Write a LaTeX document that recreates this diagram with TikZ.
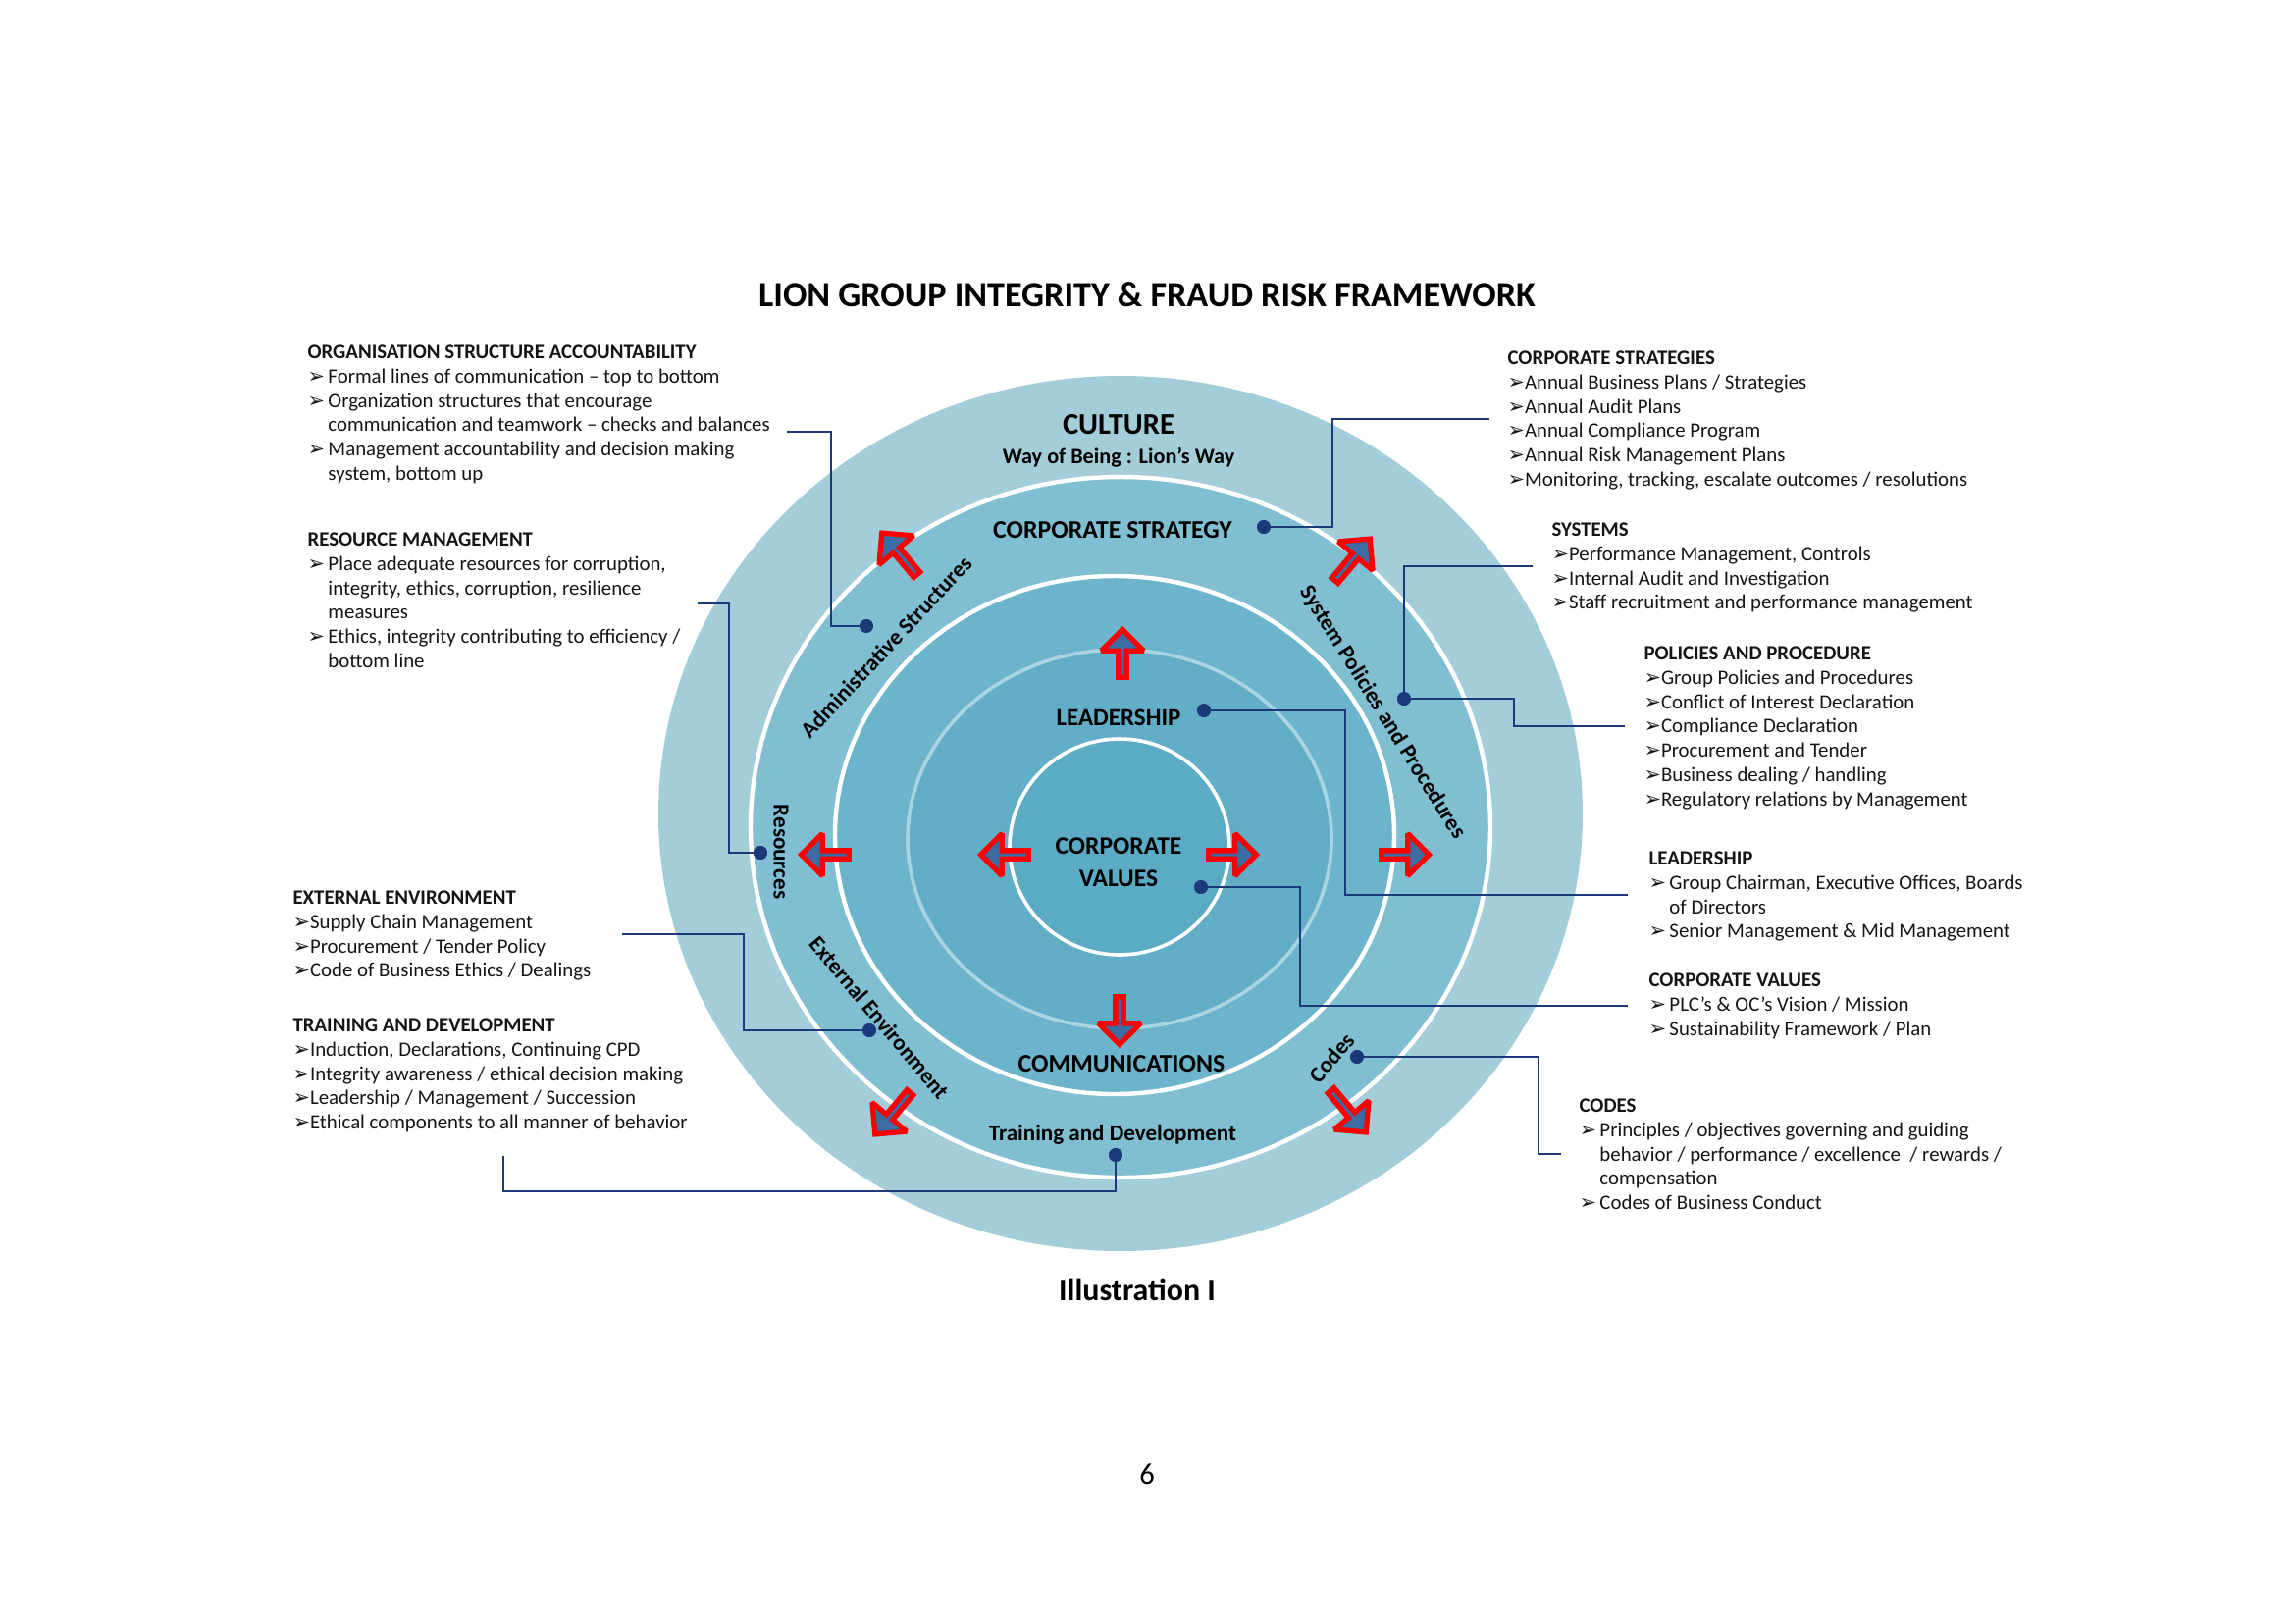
\documentclass[tikz,border=0pt]{standalone}
\usepackage{fontspec}
\setmainfont{Carlito}
\newfontfamily\dejavu{DejaVu Sans}
\usetikzlibrary{shapes.arrows}
\definecolor{cOut}{HTML}{A4CDDA}
\definecolor{cB1}{HTML}{80BED1}
\definecolor{cB2}{HTML}{6CB4CB}
\definecolor{cB3}{HTML}{62AEC7}
\definecolor{cIn}{HTML}{5BABC4}
\definecolor{cRing}{HTML}{A9D4E2}
\definecolor{cLine}{HTML}{1B3A7A}
\definecolor{cTxt}{HTML}{141414}
\definecolor{aFill}{HTML}{3C6CA3}
\newcommand{\bl}{{\dejavu\bfseries\char"27A2}}
\newcommand{\ind}{\phantom{\bl}}
\tikzset{
  blk/.style={anchor=north west, align=left, inner sep=0pt, text=cTxt,
    font=\fontsize{7.5}{8.96}\selectfont},
  ringlbl/.style={inner sep=0pt, text=black, font=\fontsize{8.3}{9}\selectfont\bfseries},
  midlbl/.style={inner sep=0pt, text=black, font=\fontsize{9.3}{11}\selectfont\bfseries},
  conn/.style={draw=cLine, line width=0.9pt},
  dotn/.style={circle, fill=cLine, inner sep=0pt, minimum size=5pt},
  bigarrow/.style={single arrow, draw=red, line width=1.9pt, fill=aFill,
    minimum height=17.5pt, minimum width=15.5pt, single arrow head extend=4pt,
    single arrow tip angle=90, inner sep=0pt, miter limit=2},
  diagarrow/.style={bigarrow, minimum height=20pt, minimum width=16.5pt, single arrow head extend=4.2pt}
}
\begin{document}
\begin{tikzpicture}[x=0.36pt, y=-0.36pt]
\useasboundingbox (0,0) rectangle (2339,1654);

% title
\node[inner sep=0pt, font=\fontsize{13}{15}\selectfont\bfseries, text=black] (title) at (1169,300) {LION GROUP INTEGRITY \& FRAUD RISK FRAMEWORK};

% rings
\fill[cOut] (1142,829) ellipse [x radius=471, y radius=446];
\filldraw[fill=cB1, draw=white, line width=1.6pt] (1142,843) ellipse [x radius=377, y radius=357];
\filldraw[fill=cB2, draw=white, line width=1.6pt] (1136,851) ellipse [x radius=285, y radius=264];
\filldraw[fill=cB3, draw=cRing, line width=1.3pt] (1141,855) ellipse [x radius=216, y radius=193];
\filldraw[fill=cIn, draw=white, line width=1.3pt] (1141,863) ellipse [x radius=112, y radius=110];

% ring labels
\node[inner sep=0pt, font=\fontsize{11}{13}\selectfont\bfseries] (culture) at (1140,433) {CULTURE};
\node[inner sep=0pt, font=\fontsize{8}{10}\selectfont\bfseries] (way) at (1140,466) {Way of Being : Lion’s Way};
\node[midlbl] (cstrat) at (1134,540) {CORPORATE STRATEGY};
\node[midlbl, font=\fontsize{9}{11}\selectfont\bfseries] (lead) at (1140,731) {LEADERSHIP};
\node[midlbl, align=center, font=\fontsize{9.2}{12}\selectfont\bfseries] (cval) at (1140,879) {CORPORATE\\VALUES};
\node[midlbl] (comm) at (1143,1084) {COMMUNICATIONS};
\node[ringlbl] (train) at (1134,1156) {Training and Development};
\node[ringlbl, rotate=47] (admin) at (903,659) {Administrative Structures};
\node[ringlbl, rotate=-58] (syspol) at (1409,726) {System Policies and Procedures};
\node[ringlbl, rotate=-90] (res) at (796,868) {Resources};
\node[ringlbl, rotate=-50] (ext) at (896,1037) {External Environment};
\node[ringlbl, rotate=50] (codes) at (1357,1078) {Codes};

% arrows
\node[diagarrow, rotate=130] (a1) at (918,566) {};
\node[diagarrow, rotate=50] (a2) at (1377,572) {};
\node[bigarrow, rotate=90] (a3) at (1144,668) {};
\node[bigarrow, rotate=180] (a4) at (843,871) {};
\node[bigarrow, rotate=180] (a5) at (1026,871) {};
\node[bigarrow, rotate=0] (a6) at (1254,871) {};
\node[bigarrow, rotate=0] (a7) at (1430,871) {};
\node[bigarrow, rotate=-90] (a8) at (1141,1038) {};
\node[diagarrow, rotate=-130] (a9) at (911,1133) {};
\node[diagarrow, rotate=-50] (a10) at (1373,1131) {};

% text blocks
\node[blk] (tOrg) at (313,351) {\textbf{ORGANISATION STRUCTURE ACCOUNTABILITY}\\
\bl\,Formal lines of communication – top to bottom\\
\bl\,Organization structures that encourage\\
\ind\,communication and teamwork – checks and balances\\
\bl\,Management accountability and decision making\\
\ind\,system, bottom up};

\node[blk] (tRes) at (313,542) {\textbf{RESOURCE MANAGEMENT}\\
\bl\,Place adequate resources for corruption,\\
\ind\,integrity, ethics, corruption, resilience\\
\ind\,measures\\
\bl\,Ethics, integrity contributing to efficiency /\\
\ind\,bottom line};

\node[blk] (tExt) at (298,907) {\textbf{EXTERNAL ENVIRONMENT}\\
\bl Supply Chain Management\\
\bl Procurement / Tender Policy\\
\bl Code of Business Ethics / Dealings};

\node[blk] (tTrn) at (298,1037) {\textbf{TRAINING AND DEVELOPMENT}\\
\bl Induction, Declarations, Continuing CPD\\
\bl Integrity awareness / ethical decision making\\
\bl Leadership / Management / Succession\\
\bl Ethical components to all manner of behavior};

\node[blk] (tCS) at (1536,357) {\textbf{CORPORATE STRATEGIES}\\
\bl Annual Business Plans / Strategies\\
\bl Annual Audit Plans\\
\bl Annual Compliance Program\\
\bl Annual Risk Management Plans\\
\bl Monitoring, tracking, escalate outcomes / resolutions};

\node[blk] (tSys) at (1581,532) {\textbf{SYSTEMS}\\
\bl Performance Management, Controls\\
\bl Internal Audit and Investigation\\
\bl Staff recruitment and performance management};

\node[blk] (tPol) at (1675,658) {\textbf{POLICIES AND PROCEDURE}\\
\bl Group Policies and Procedures\\
\bl Conflict of Interest Declaration\\
\bl Compliance Declaration\\
\bl Procurement and Tender\\
\bl Business dealing / handling\\
\bl Regulatory relations by Management};

\node[blk] (tLead) at (1680,867) {\textbf{LEADERSHIP}\\
\bl\,Group Chairman, Executive Offices, Boards\\
\ind\,of Directors\\
\bl\,Senior Management \& Mid Management};

\node[blk] (tCV) at (1680,991) {\textbf{CORPORATE VALUES}\\
\bl\,PLC’s \& OC’s Vision / Mission\\
\bl\,Sustainability Framework / Plan};

\node[blk] (tCodes) at (1609,1119) {\textbf{CODES}\\
\bl\,Principles / objectives governing and guiding\\
\ind\,behavior / performance / excellence \ / rewards /\\
\ind\,compensation\\
\bl\,Codes of Business Conduct};

% dots
\node[dotn] (dOrg) at (883,638) {};
\node[dotn] (dRes) at (775,869) {};
\node[dotn] (dExt) at (886,1050) {};
\node[dotn] (dTrn) at (1137,1177) {};
\node[dotn] (dCS) at (1288,537) {};
\node[dotn] (dSys) at (1431,712) {};
\node[dotn] (dLead) at (1227,724) {};
\node[dotn] (dCV) at (1224,904) {};
\node[dotn] (dCodes) at (1383,1077) {};

% connector coordinates
\coordinate (sOrg) at (802,440);
\coordinate (kOrg) at (847,440);
\coordinate (sRes) at (711,615);
\coordinate (kRes) at (743,615);
\coordinate (sExt) at (634,952);
\coordinate (kExt) at (758,952);
\coordinate (sTrn) at (513,1178);
\coordinate (kTrn) at (513,1214);
\coordinate (sCS) at (1518,427);
\coordinate (kCS) at (1358,427);
\coordinate (sSys) at (1562,577);
\coordinate (sPol) at (1656,740);
\coordinate (kPol) at (1543,712);
\coordinate (sLead) at (1659,912);
\coordinate (kLead) at (1371,724);
\coordinate (sCV) at (1659,1025);
\coordinate (kCV) at (1325,904);
\coordinate (sCodes) at (1591,1176);
\coordinate (kCodes) at (1568,1077);

\draw[conn] (sOrg) -- (kOrg) |- (dOrg.center);
\draw[conn] (sRes) -- (kRes) |- (dRes.center);
\draw[conn] (sExt) -- (kExt) |- (dExt.center);
\draw[conn] (sTrn) -- (kTrn) -| (dTrn.center);
\draw[conn] (sCS) -- (kCS) |- (dCS.center);
\draw[conn] (sSys) -| (dSys.center);
\draw[conn] (dSys.center) -- (kPol) |- (sPol);
\draw[conn] (dLead.center) -- (kLead) |- (sLead);
\draw[conn] (dCV.center) -- (kCV) |- (sCV);
\draw[conn] (dCodes.center) -- (kCodes) |- (sCodes);
\foreach \d in {dOrg,dRes,dExt,dTrn,dCS,dSys,dLead,dCV,dCodes}
  \node[dotn] at (\d) {};

% caption
\node[inner sep=0pt, font=\fontsize{11.5}{13}\selectfont\bfseries] (illus) at (1159,1314) {Illustration I};
\node[inner sep=0pt, font=\fontsize{11}{13}\selectfont] (page) at (1169,1502) {6};
\end{tikzpicture}
\end{document}
